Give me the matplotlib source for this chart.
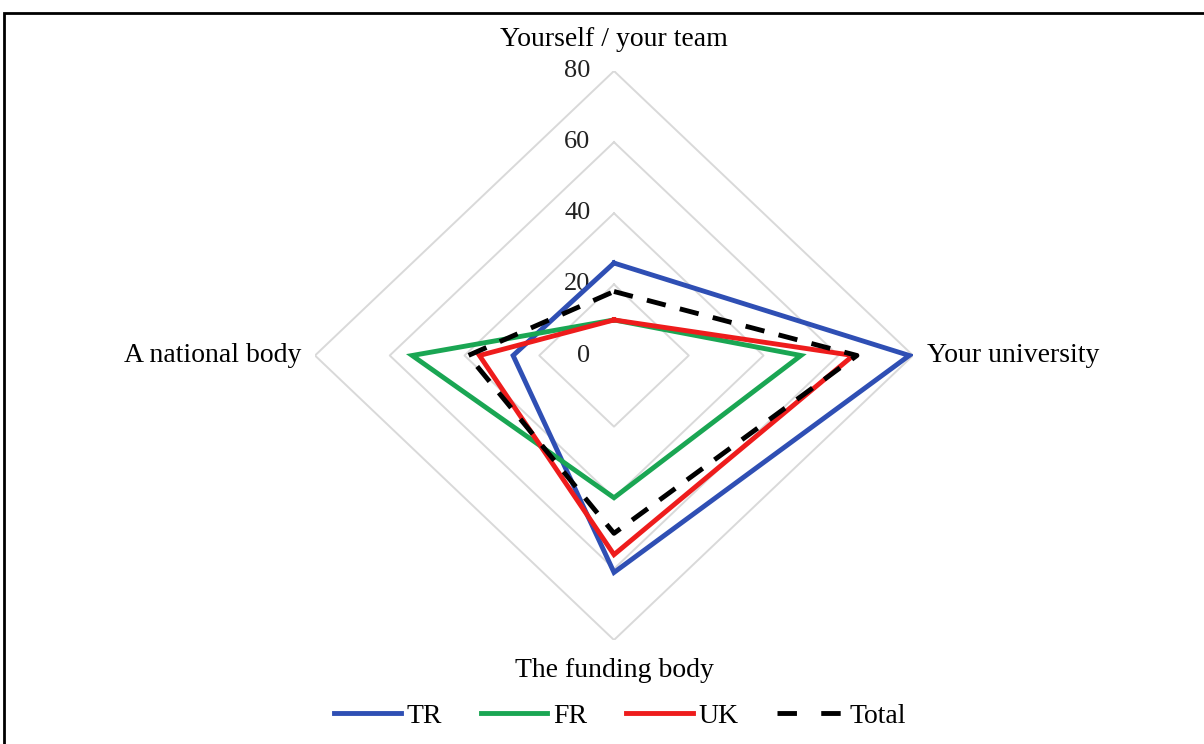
import matplotlib.pyplot as plt
from matplotlib.patches import Rectangle
from matplotlib.lines import Line2D
import numpy as np

plt.rcParams['font.family'] = ['Liberation Serif', 'DejaVu Serif']

categories = ["Yourself / your team", "Your university", "The funding body", "A national body"]
tr = [26, 79, 61, 27]
fr = [10, 50, 40, 54]
uk = [10, 64, 56, 36]
total = [18, 65, 50, 39]
grid_levels = [20, 40, 60, 80]
tick_values = [0, 20, 40, 60, 80]

# angles measured clockwise from the top
theta = np.array([0, 90, 180, 270]) * np.pi / 180


def to_xy(vals):
    v = np.array(vals + vals[:1], dtype=float)
    t = np.append(theta, theta[0])
    return v * np.sin(t), v * np.cos(t)


fig = plt.figure(figsize=(12.04, 7.44), dpi=100)
fig.patches.append(Rectangle((4 / 1204, -0.05), 1.1, 1 - 13 / 744 + 0.05,
                             transform=fig.transFigure, fill=False,
                             edgecolor="black", lw=2))

ax = fig.add_axes([315 / 1204, 104 / 744, 598 / 1204, 569 / 744])
ax.set_xlim(-80, 80)
ax.set_ylim(-80, 80)
ax.axis("off")

for g in grid_levels:
    gx, gy = to_xy([g] * 4)
    ax.plot(gx, gy, color="#d9d9d9", lw=1.4, zorder=1)

for v in tick_values:
    ax.annotate(str(v), (0, v), xytext=(-17, 0), textcoords="offset points",
                ha="right", va="center", fontsize=19, color="#222222")

series = [("TR", tr, "#2f4fb4", "-"),
          ("FR", fr, "#1aa653", "-"),
          ("UK", uk, "#ee1c1c", "-"),
          ("Total", total, "black", (0, (4, 3)))]
handles = []
for name, vals, col, ls in series:
    sx, sy = to_xy(vals)
    ax.plot(sx, sy, color=col, lw=3.5, ls=ls, zorder=3,
            solid_joinstyle="miter", dash_capstyle="butt")
    leg_ls = (0, (4, 5)) if name == "Total" else ls
    handles.append(Line2D([], [], color=col, lw=3.5, ls=leg_ls,
                          dash_capstyle="butt", label=name))

lab_off = [(0, 23), (10, 0), (0, -22), (-10, 0)]
lab_ha = ["center", "left", "center", "right"]
for cat, t, off, ha in zip(categories, theta, lab_off, lab_ha):
    ax.annotate(cat, (80 * np.sin(t), 80 * np.cos(t)), xytext=off,
                textcoords="offset points", ha=ha, va="center", fontsize=20)

fig.legend(handles=handles, loc="center", bbox_to_anchor=(0.515, 28 / 744),
           ncol=4, frameon=False, fontsize=20, handlelength=2.4,
           handletextpad=0.2, columnspacing=1.4)

fig.savefig("out.png", dpi=100)
